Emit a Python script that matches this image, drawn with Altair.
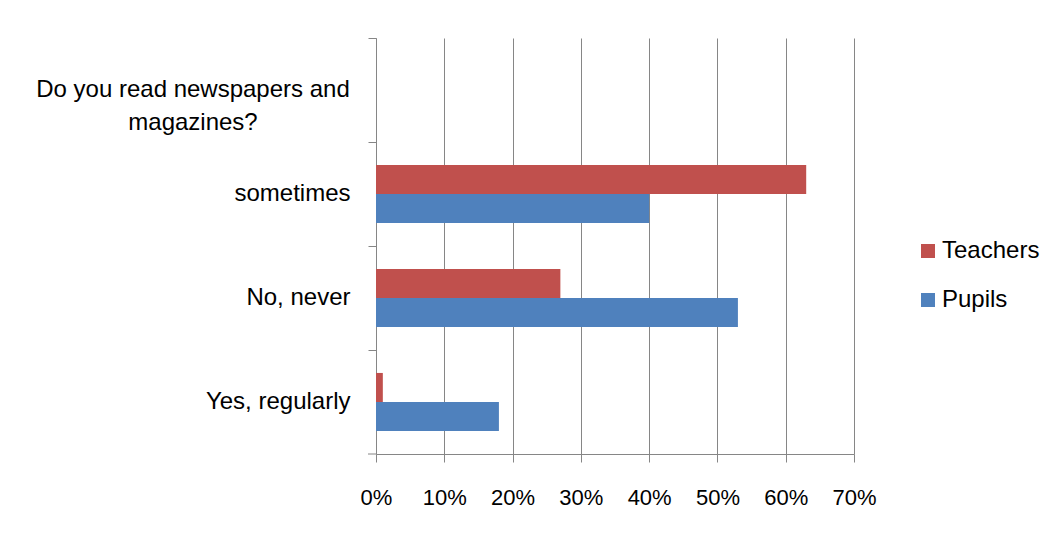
import altair as alt
import pandas as pd

categories = ["Do you read newspapers and magazines?", "sometimes", "No, never", "Yes, regularly"]
series = ["Teachers", "Pupils"]
answer_rows = ["sometimes", "No, never", "Yes, regularly"]
teachers = [63, 27, 1]
pupils = [40, 53, 18]
x_ticks = [0, 0.1, 0.2, 0.3, 0.4, 0.5, 0.6, 0.7]
colors = ["#C0504D", "#4F81BD"]
header = categories[0]

rows = []
for cat, t, p in zip(answer_rows, teachers, pupils):
    rows.append({"category": cat, "series": "Teachers", "value": t / 100})
    rows.append({"category": cat, "series": "Pupils", "value": p / 100})
df = pd.DataFrame(rows)
hdf = pd.DataFrame({"category": [header], "text": ["Do you read newspapers and\nmagazines?"]})

FONT = "Liberation Sans"
GRAY = "#868686"

y_enc = alt.Y(
    "category:N",
    scale=alt.Scale(domain=categories, paddingInner=0, paddingOuter=0),
    axis=alt.Axis(
        title=None,
        bandPosition=0,
        labelExpr=f"datum.label == '{header}' ? '' : datum.label",
        domainColor=GRAY,
        tickColor=GRAY,
        tickSize=8,
        labelPadding=18,
        labelFontSize=24,
        labelFont=FONT,
        labelColor="#000000",
        grid=False,
    ),
)

bars = alt.Chart(df).mark_bar().encode(
    y=y_enc,
    yOffset=alt.YOffset("series:N", scale=alt.Scale(domain=series, paddingInner=0, paddingOuter=0.79)),
    x=alt.X(
        "value:Q",
        scale=alt.Scale(domain=[0, 0.7], nice=False),
        axis=alt.Axis(
            title=None,
            values=x_ticks,
            format=".0%",
            grid=True,
            gridColor=GRAY,
            domainColor=GRAY,
            tickColor=GRAY,
            tickSize=8,
            labelPadding=25,
            labelFontSize=22,
            labelFont=FONT,
            labelColor="#000000",
            labelOverlap=False,
            labelFlush=False,
        ),
    ),
    color=alt.Color(
        "series:N",
        scale=alt.Scale(domain=series, range=colors),
        legend=alt.Legend(
            title=None,
            orient="none",
            legendX=540,
            legendY=201,
            symbolType="square",
            symbolSize=196,
            symbolStrokeWidth=0,
            labelFontSize=24,
            labelFont=FONT,
            labelColor="#000000",
            labelOffset=2,
            rowPadding=25,
        ),
    ),
)

head = alt.Chart(hdf).mark_text(
    align="center", baseline="middle", lineBreak="\n", lineHeight=33, fontSize=24, font=FONT, color="#000000"
).encode(y=alt.Y("category:N"), x=alt.value(-183), text="text:N")

bottom_tick = alt.Chart(hdf).mark_rule(color=GRAY).encode(
    x=alt.value(-8), x2=alt.value(0), y=alt.value(416)
)

chart = (
    alt.layer(bars, head, bottom_tick)
    .properties(
        width=478,
        height=416,
        autosize=alt.AutoSizeParams(type="none"),
        padding={"left": 368, "top": 30, "right": 194, "bottom": 70},
        background="#FFFFFF",
    )
    .configure_view(stroke="transparent")
)

chart.save("out.html", embed_options={"renderer": "svg", "actions": False})
